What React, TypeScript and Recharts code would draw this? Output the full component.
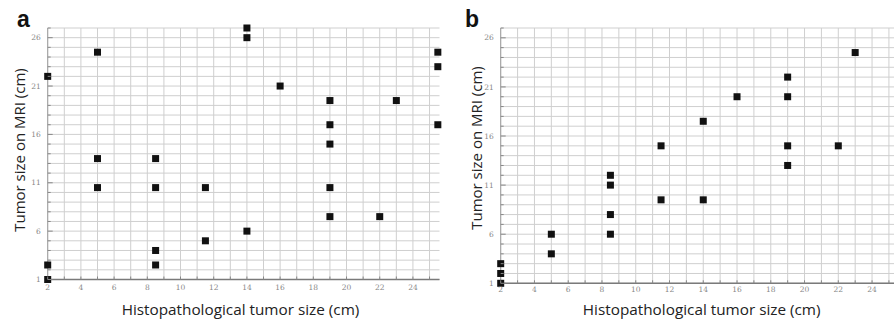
import React from "react";
import { ScatterChart, Scatter, XAxis, YAxis, CartesianGrid } from "recharts";

// Panel a: MRI vs histopathology (cm)
const panelA = [
  { x: 2, y: 1 }, { x: 2, y: 2.5 }, { x: 2, y: 22 },
  { x: 5, y: 24.5 }, { x: 5, y: 13.5 }, { x: 5, y: 10.5 },
  { x: 8.5, y: 13.5 }, { x: 8.5, y: 10.5 }, { x: 8.5, y: 4 }, { x: 8.5, y: 2.5 },
  { x: 11.5, y: 10.5 }, { x: 11.5, y: 5 },
  { x: 14, y: 6 }, { x: 14, y: 26 }, { x: 14, y: 27 },
  { x: 16, y: 21 },
  { x: 19, y: 19.5 }, { x: 19, y: 17 }, { x: 19, y: 15 }, { x: 19, y: 10.5 }, { x: 19, y: 7.5 },
  { x: 22, y: 7.5 }, { x: 23, y: 19.5 },
  { x: 25.5, y: 24.5 }, { x: 25.5, y: 23 }, { x: 25.5, y: 17 },
];

// Panel b
const panelB = [
  { x: 2, y: 1 }, { x: 2, y: 2 }, { x: 2, y: 3 },
  { x: 5, y: 4 }, { x: 5, y: 6 },
  { x: 8.5, y: 6 }, { x: 8.5, y: 8 }, { x: 8.5, y: 11 }, { x: 8.5, y: 12 },
  { x: 11.5, y: 9.5 }, { x: 11.5, y: 15 },
  { x: 14, y: 9.5 }, { x: 14, y: 17.5 },
  { x: 16, y: 20 },
  { x: 19, y: 13 }, { x: 19, y: 15 }, { x: 19, y: 20 }, { x: 19, y: 22 },
  { x: 22, y: 15 }, { x: 23, y: 24.5 },
];

const xMajorTicks = [2, 4, 6, 8, 10, 12, 14, 16, 18, 20, 22, 24];
const yMajorTicks = [1, 6, 11, 16, 21, 26];
const xMinorTicks = [2, 3, 4, 5, 6, 7, 8, 9, 10, 11, 12, 13, 14, 15, 16, 17, 18, 19, 20, 21, 22, 23, 24, 25];
const yMinorTicks = [1, 2, 3, 4, 5, 6, 7, 8, 9, 10, 11, 12, 13, 14, 15, 16, 17, 18, 19, 20, 21, 22, 23, 24, 25, 26, 27];

const xTitle = "Histopathological tumor size (cm)";
const yTitle = "Tumor size on MRI (cm)";

const TICK_FONT = "'DejaVu Serif', serif";
const LABEL_FONT = "'Open Sans', sans-serif";

const XTick = (props: any) => {
  const { x, y, payload, labelOffset } = props;
  const isMajor = xMajorTicks.includes(payload.value);
  return (
    <g>
      <line x1={x} x2={x} y1={y} y2={y - 3} stroke="#888" strokeWidth={1} />
      {isMajor && (
        <text x={x} y={y + labelOffset} textAnchor="middle" fontSize={7.5} fill="#888" fontFamily={TICK_FONT}>
          {payload.value}
        </text>
      )}
    </g>
  );
};

const YTick = (props: any) => {
  const { x, y, payload } = props;
  const isMajor = yMajorTicks.includes(payload.value);
  return (
    <g>
      <line x1={x} x2={x + (isMajor ? 5 : 3)} y1={y} y2={y} stroke="#888" strokeWidth={1} />
      {isMajor && (
        <text x={x - 7} y={y} dy="0.35em" textAnchor="end" fontSize={7.5} fill="#888" fontFamily={TICK_FONT}>
          {payload.value}
        </text>
      )}
    </g>
  );
};

const SquareDot = (props: any) => {
  const { cx, cy } = props;
  if (cx == null || cy == null) return null;
  return <rect x={cx - 3.5} y={cy - 3.5} width={7} height={7} fill="#111" />;
};

type PanelProps = {
  data: { x: number; y: number }[];
  left: number;
  width: number;
  margin: { top: number; right: number; bottom: number; left: number };
  xMax: number;
  labelOffset: number;
};

const AXIS_W = 20;
const AXIS_H = 20;

const Panel = ({ data, left, width, margin, xMax, labelOffset }: PanelProps) => (
  <div style={{ position: "absolute", left, top: 0 }}>
    <ScatterChart
      width={width}
      height={323}
      margin={{ top: margin.top, right: margin.right, bottom: margin.bottom - AXIS_H, left: margin.left - AXIS_W }}
    >
      <CartesianGrid
        stroke="#cfcfcf"
        strokeWidth={1}
        horizontalValues={yMinorTicks}
        verticalValues={xMinorTicks}
      />
      <XAxis
        type="number"
        dataKey="x"
        domain={[2, xMax]}
        ticks={xMinorTicks}
        interval={0}
        height={AXIS_H}
        tickSize={0}
        tickMargin={0}
        tickLine={false}
        axisLine={{ stroke: "#7a7a7a", strokeWidth: 1.5 }}
        tick={<XTick labelOffset={labelOffset} />}
      />
      <YAxis
        type="number"
        dataKey="y"
        domain={[1, 27]}
        ticks={yMinorTicks}
        interval={0}
        width={AXIS_W}
        tickSize={0}
        tickMargin={0}
        tickLine={false}
        axisLine={{ stroke: "#a0a0a0", strokeWidth: 1 }}
        tick={<YTick />}
      />
      <Scatter data={data} shape={<SquareDot />} isAnimationActive={false} />
    </ScatterChart>
  </div>
);

export default function App() {
  return (
    <div style={{ position: "absolute", left: 0, top: 0, width: 895, height: 323, overflow: "hidden", background: "#fff" }}>
      <Panel
        data={panelA}
        left={0}
        width={445}
        margin={{ top: 28, right: 5.5, bottom: 43.5, left: 47.7 }}
        xMax={25.6}
        labelOffset={10.5}
      />
      <Panel
        data={panelB}
        left={450}
        width={445}
        margin={{ top: 28, right: 1, bottom: 39.7, left: 50.7 }}
        xMax={25.3}
        labelOffset={9}
      />
      <svg width={895} height={323} style={{ position: "absolute", left: 0, top: 0, pointerEvents: "none" }}>
        <text x={17} y={27} fontSize={23} fontWeight="bold" fontFamily="'Liberation Sans', Arial, sans-serif" fill="#111">a</text>
        <text x={465} y={27} fontSize={23} fontWeight="bold" fontFamily="'Liberation Sans', Arial, sans-serif" fill="#111">b</text>
        <text x={240.5} y={315} textAnchor="middle" fontSize={15.3} fontFamily={LABEL_FONT} fill="#222">{xTitle}</text>
        <text x={701.7} y={315} textAnchor="middle" fontSize={15.3} fontFamily={LABEL_FONT} fill="#222">{xTitle}</text>
        <text x={25} y={150} textAnchor="middle" fontSize={15} fontFamily={LABEL_FONT} fill="#222" transform="rotate(-90, 25, 150)">{yTitle}</text>
        <text x={482} y={148} textAnchor="middle" fontSize={15} fontFamily={LABEL_FONT} fill="#222" transform="rotate(-90, 482, 148)">{yTitle}</text>
      </svg>
    </div>
  );
}
